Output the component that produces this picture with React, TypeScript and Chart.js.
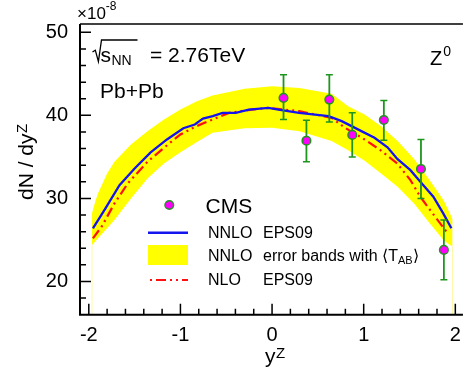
import React, { useEffect, useRef } from "react";
import { Chart, registerables } from "chart.js";

Chart.register(...registerables);

// ---------- data ----------
const nnloX = [-1.955, -1.83, -1.665, -1.5, -1.325, -1.147, -0.968, -0.843, -0.754, -0.647, -0.54, -0.396, -0.254, -0.04, 0.07, 0.296, 0.617, 0.76, 0.975, 1.118, 1.26, 1.367, 1.51, 1.618, 1.76, 1.868, 1.957];
const nnloY = [26.4, 28.6, 31.6, 33.6, 35.55, 37.1, 38.45, 38.9, 39.6, 39.9, 40.3, 40.3, 40.7, 40.9, 40.7, 40.3, 39.9, 39.3, 38.1, 37.3, 36.15, 34.75, 33.4, 32.0, 30.2, 28.2, 26.4];

const nloX = [-1.955, -1.86, -1.72, -1.575, -1.36, -1.18, -1.0, -0.825, -0.647, -0.47, -0.22, -0.04, 0.296, 0.65, 0.796, 1.01, 1.19, 1.367, 1.51, 1.618, 1.725, 1.903];
const nloY = [25.2, 26.6, 29.4, 31.8, 34.4, 36.1, 37.7, 38.7, 39.5, 40.3, 40.7, 40.9, 40.5, 39.7, 38.5, 37.1, 35.75, 34.2, 32.2, 30.2, 28.6, 26.0];

const bandX = [-1.965, -1.93, -1.9, -1.8, -1.72, -1.54, -1.36, -1.18, -1.0, -0.82, -0.65, -0.3, 0.0, 0.3, 0.65, 0.83, 1.01, 1.19, 1.37, 1.55, 1.72, 1.87, 1.94, 1.97];
const bandUpper = [28.2, 29.6, 30.6, 33.0, 34.4, 36.5, 38.1, 39.5, 40.7, 41.7, 42.4, 43.2, 43.5, 43.3, 42.6, 41.1, 40.1, 38.7, 36.9, 34.75, 32.2, 29.8, 28.2, 27.5];
const bandLower = [24.4, 24.8, 25.2, 26.4, 27.4, 30.0, 32.4, 34.2, 35.55, 36.8, 37.9, 38.45, 38.5, 38.1, 36.9, 35.8, 34.55, 33.0, 31.4, 29.4, 27.0, 25.0, 24.4, 24.2];

const cmsX = [0.125, 0.375, 0.625, 0.875, 1.22, 1.625, 1.875];
const cmsY = [42.1, 36.95, 41.9, 37.65, 39.45, 33.55, 23.8];
const cmsHigh = [44.9, 39.4, 44.9, 40.3, 41.8, 37.1, 27.4];
const cmsLow = [39.5, 34.4, 39.2, 35.0, 37.0, 30.0, 20.2];

const xTickValues = [-2, -1, 0, 1, 2];
const yTickValues = [20, 30, 40, 50];

// ---------- style ----------
const FONT = "'Liberation Sans', Arial, Helvetica, sans-serif";
const BLUE = "#1414ee";
const RED = "#ff1010";
const YELLOW = "#ffff00";
const GREEN = "#1e961e";
const MAGENTA = "#ff00ff";
const NLO_DASH = [10, 4, 2, 4, 2, 4];

function pts(xs: number[], ys: number[]) {
  return xs.map((x, i) => ({ x, y: ys[i] }));
}

function txt(ctx: CanvasRenderingContext2D, s: string, x: number, y: number, size: number, align: CanvasTextAlign = "left") {
  ctx.font = `${size}px ${FONT}`;
  ctx.textAlign = align;
  ctx.textBaseline = "alphabetic";
  ctx.fillStyle = "#000";
  ctx.fillText(s, x, y);
  return ctx.measureText(s).width;
}

const decor = {
  id: "decor",
  beforeDatasetDraw(chart: any, args: any) {
    if (args.index !== 0) return;
    const ctx: CanvasRenderingContext2D = chart.ctx;
    const xs = chart.scales.x, ys = chart.scales.y;
    ctx.save();
    ctx.strokeStyle = GREEN;
    for (let i = 0; i < cmsX.length; i++) {
      const px = xs.getPixelForValue(cmsX[i]);
      const pt = ys.getPixelForValue(cmsHigh[i]);
      const pb = ys.getPixelForValue(cmsLow[i]);
      ctx.lineWidth = 1.8;
      ctx.beginPath();
      ctx.moveTo(px, pt);
      ctx.lineTo(px, pb);
      ctx.stroke();
      ctx.lineWidth = 1.5;
      ctx.beginPath();
      ctx.moveTo(px - 3.5, pt);
      ctx.lineTo(px + 3.5, pt);
      ctx.moveTo(px - 3.5, pb);
      ctx.lineTo(px + 3.5, pb);
      ctx.stroke();
    }
    ctx.restore();
  },
  afterDraw(chart: any) {
    const ctx: CanvasRenderingContext2D = chart.ctx;
    const { left, right, top, bottom } = chart.chartArea;
    const xs = chart.scales.x, ys = chart.scales.y;
    ctx.save();

    // frame / axes
    ctx.strokeStyle = "#000";
    ctx.lineWidth = 2;
    ctx.beginPath();
    ctx.moveTo(left, top);
    ctx.lineTo(left, bottom);
    ctx.lineTo(right, bottom);
    ctx.stroke();
    ctx.lineWidth = 1.5;
    ctx.beginPath();
    ctx.moveTo(left, top);
    ctx.lineTo(right, top);
    ctx.stroke();

    // inner ticks
    ctx.lineWidth = 1.5;
    ctx.beginPath();
    for (let i = -10; i <= 10; i++) {
      const v = i / 5;
      const px = xs.getPixelForValue(v);
      const len = i % 5 === 0 ? 11 : 6;
      ctx.moveTo(px, bottom);
      ctx.lineTo(px, bottom - len);
    }
    for (let v = 18; v <= 50; v += 2) {
      const py = ys.getPixelForValue(v);
      const len = v % 10 === 0 ? 11 : 6;
      ctx.moveTo(left, py);
      ctx.lineTo(left + len, py);
    }
    ctx.stroke();

    // exponent
    let w = txt(ctx, "\u00d710", 77, 18.5, 17);
    txt(ctx, "-8", 77 + w, 9.5, 12);

    // sqrt(s_NN)
    ctx.strokeStyle = "#000";
    ctx.lineWidth = 1.3;
    ctx.beginPath();
    ctx.moveTo(92.5, 52);
    ctx.lineTo(95.3, 50.2);
    ctx.lineTo(98.4, 61.5);
    ctx.lineTo(101.5, 40);
    ctx.lineTo(137.5, 40);
    ctx.stroke();
    w = txt(ctx, "s", 100.5, 61.7, 21);
    txt(ctx, "NN", 100.5 + w + 0.5, 64.5, 14);
    txt(ctx, "= 2.76TeV", 150, 61.7, 21);

    txt(ctx, "Pb+Pb", 100, 98.3, 21);

    // Z^0
    w = txt(ctx, "Z", 430, 65, 20);
    txt(ctx, "0", 430 + w + 1, 55.5, 14);

    // x title
    w = txt(ctx, "y", 265, 363, 21);
    txt(ctx, "Z", 265 + w + 0.5, 358, 15);

    // y title (rotated)
    ctx.save();
    ctx.translate(33, 200);
    ctx.rotate(-Math.PI / 2);
    w = txt(ctx, "dN / dy", 0, 0, 21);
    txt(ctx, "Z", w + 0.5, -6, 15);
    ctx.restore();

    // legend
    ctx.fillStyle = MAGENTA;
    ctx.strokeStyle = GREEN;
    ctx.lineWidth = 1.5;
    ctx.beginPath();
    ctx.arc(169.3, 205, 4.3, 0, Math.PI * 2);
    ctx.fill();
    ctx.stroke();
    txt(ctx, "CMS", 205.5, 213.3, 21);

    ctx.strokeStyle = BLUE;
    ctx.lineWidth = 2.5;
    ctx.beginPath();
    ctx.moveTo(148, 232.7);
    ctx.lineTo(188, 232.7);
    ctx.stroke();
    txt(ctx, "NNLO", 208, 238.3, 16);
    txt(ctx, "EPS09", 263, 238.3, 16);

    ctx.fillStyle = YELLOW;
    ctx.fillRect(148, 245, 40, 20);
    txt(ctx, "NNLO", 208, 261, 16);
    w = txt(ctx, "error bands with \u27e8T", 263, 261, 16);
    const w2 = txt(ctx, "AB", 263 + w, 264, 11);
    txt(ctx, "\u27e9", 263 + w + w2, 261, 16);

    ctx.strokeStyle = RED;
    ctx.lineWidth = 2.2;
    ctx.setLineDash(NLO_DASH);
    ctx.lineDashOffset = 18;
    ctx.beginPath();
    ctx.moveTo(148, 280);
    ctx.lineTo(188, 280);
    ctx.stroke();
    ctx.setLineDash([]);
    txt(ctx, "NLO", 208, 285, 16);
    txt(ctx, "EPS09", 263, 285, 16);

    ctx.restore();
  },
};

export default function App() {
  const ref = useRef<HTMLCanvasElement | null>(null);

  useEffect(() => {
    document.body.style.margin = "0";
    const canvas = ref.current;
    if (!canvas) return;
    const chart = new Chart(canvas, {
      type: "line",
      data: {
        datasets: [
          {
            label: "CMS",
            data: pts(cmsX, cmsY),
            showLine: false,
            pointRadius: 4.3,
            pointBackgroundColor: MAGENTA,
            pointBorderColor: GREEN,
            pointBorderWidth: 1.5,
            order: 0,
          },
          {
            label: "NNLO EPS09",
            data: pts(nnloX, nnloY),
            borderColor: BLUE,
            borderWidth: 2.3,
            pointRadius: 0,
            fill: false,
            tension: 0,
            order: 1,
          },
          {
            label: "NLO EPS09",
            data: pts(nloX, nloY),
            borderColor: RED,
            borderWidth: 2.2,
            borderDash: NLO_DASH,
            pointRadius: 0,
            fill: false,
            tension: 0,
            order: 2,
          },
          {
            label: "band upper",
            data: pts(bandX, bandUpper),
            borderWidth: 0,
            borderColor: YELLOW,
            backgroundColor: YELLOW,
            pointRadius: 0,
            fill: "+1",
            tension: 0,
            order: 3,
          },
          {
            label: "band lower",
            data: pts(bandX, bandLower),
            borderWidth: 0,
            borderColor: YELLOW,
            pointRadius: 0,
            fill: false,
            tension: 0,
            order: 4,
          },
          {
            label: "band left edge",
            data: [
              { x: bandX[0], y: 16 },
              { x: bandX[0], y: bandLower[0] },
            ],
            borderColor: "rgba(255,235,0,0.35)",
            borderWidth: 1,
            pointRadius: 0,
            fill: false,
            order: 5,
          },
          {
            label: "band right edge",
            data: [
              { x: bandX[bandX.length - 1], y: 16 },
              { x: bandX[bandX.length - 1], y: bandLower[bandLower.length - 1] },
            ],
            borderColor: "rgba(255,235,0,0.35)",
            borderWidth: 1,
            pointRadius: 0,
            fill: false,
            order: 6,
          },
        ],
      },
      options: {
        animation: false,
        responsive: false,
        devicePixelRatio: 1,
        layout: { padding: { top: 20.7, left: 0, right: 0, bottom: 0 } },
        plugins: {
          legend: { display: false },
          tooltip: { enabled: false },
          title: { display: false },
        },
        scales: {
          x: {
            type: "linear",
            min: -2.096,
            max: 2.083,
            grid: { display: false, drawTicks: false },
            border: { display: false },
            ticks: {
              font: { family: FONT, size: 20 },
              color: "#000",
              padding: 9,
              maxRotation: 0,
              callback: (v: any) => String(v),
            },
            afterBuildTicks: (s: any) => {
              s.ticks = xTickValues.map((v) => ({ value: v }));
            },
            afterFit: (s: any) => {
              s.height = 63.3;
            },
          },
          y: {
            type: "linear",
            min: 16,
            max: 51,
            grid: { display: false, drawTicks: false },
            border: { display: false },
            ticks: {
              font: { family: FONT, size: 20 },
              color: "#000",
              padding: 12,
              callback: (v: any) => String(v),
            },
            afterBuildTicks: (s: any) => {
              s.ticks = yTickValues.map((v) => ({ value: v }));
            },
            afterFit: (s: any) => {
              s.width = 80;
            },
          },
        },
      },
      plugins: [decor],
    } as any);
    return () => chart.destroy();
  }, []);

  return (
    <div style={{ width: 470, height: 378 }}>
      <canvas ref={ref} width={470} height={378} style={{ display: "block" }} />
    </div>
  );
}
